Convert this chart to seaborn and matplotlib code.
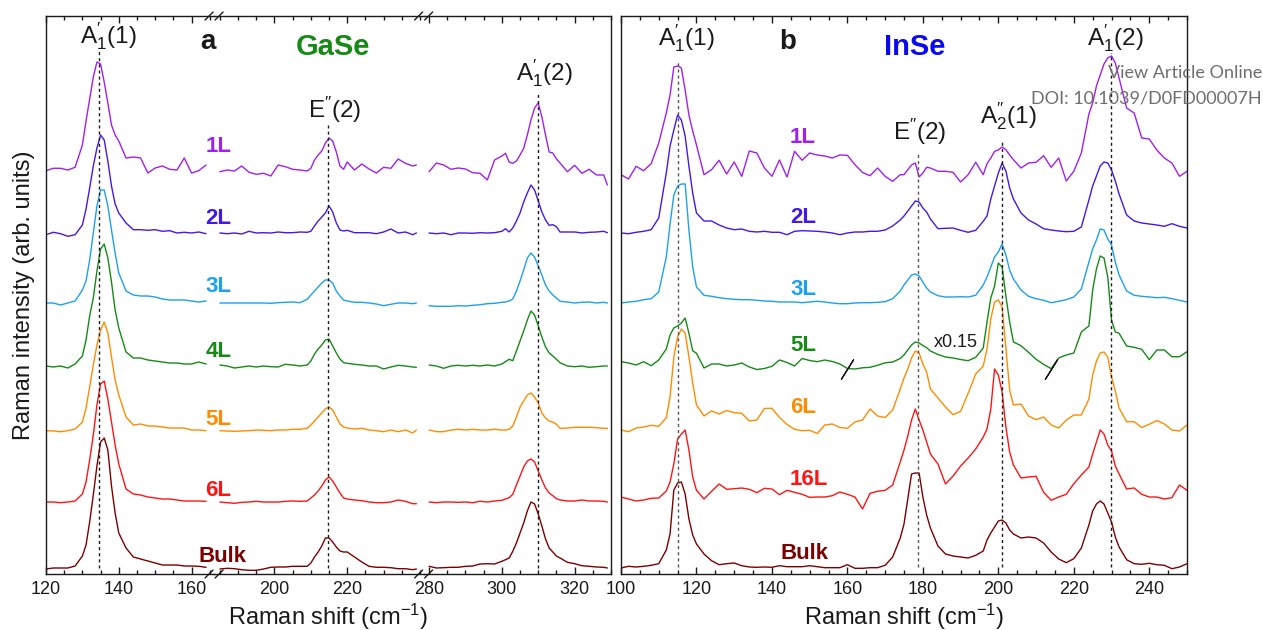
import numpy as np
import pandas as pd
import seaborn as sns
import matplotlib.pyplot as plt
from matplotlib.lines import Line2D
from matplotlib.ticker import FixedLocator, MultipleLocator

# ---------------- GaSe (panel a): broken Raman-shift axis, three windows ----------------
gase_shift_low = [120, 122, 124, 126, 128, 130, 131, 132, 133, 134, 135, 136, 137, 138, 139, 140,
                  142, 144, 146, 148, 150, 152, 154, 156, 158, 160, 162, 164]
gase_shift_mid = [185, 187, 189, 191, 193, 195, 197, 199, 201, 203, 205, 207, 209,
                  210, 211, 212, 213, 214, 215, 216, 217, 218, 219, 220,
                  222, 224, 226, 228, 230, 232, 234, 236, 238, 239]
gase_shift_high = [280, 282, 284, 286, 288, 290, 292, 294, 296, 298, 300,
                   301, 302, 303, 304, 305, 306, 307, 308, 309, 310, 311, 312, 313, 314, 315, 316,
                   318, 320, 322, 324, 326, 328, 329]

# intensities (arb. units) above each trace's own baseline: low | mid | high windows
gase_1l = ([-0.7, 1.7, 1.7, 0, 2.7, 25, 49, 71, 93, 108, 106, 88, 67, 45, 35, 29,
            12, 13, 12, -3, 2, 4, 0.7, 0, 12, -3, -0.7, 5]
           + [-1.7, 0, -1, 4, -2.3, -4.3, -3.3, -6, 5, 3.3, 0.7, 0, -1,
              1.7, 10, 15, 19, 27, 32, 29, 18, 4, 0.7, 8,
              0, 6, 1, -3, 2.7, 1.7, 11, 6.7, 4, 5]
           + [-1.7, 7, 5, 0.7, 2, 1, -2.7, -3.3, -10, 10, 14,
              16.7, 8, 6.7, 9, 15, 21.7, 35, 50, 62, 67, 53, 35, 18, 17, 11, 7,
              -1.7, 4.7, -3.3, 0.7, -5, -5, -15])
gase_2l = ([-1.7, 0.7, -0.7, -3.3, -1.7, 8, 24, 45, 67, 85, 98, 93, 72, 47, 29, 20,
            10, 3.3, 3.3, 2.7, 3.3, 1.7, 2.3, 0, 0.7, 0, 1, -0.7]
           + [0, -0.7, 0, -1, 1.7, 0, 0.3, 0, 1, 0.3, 0.3, 1, 0.7,
              1.7, 7, 12, 16, 20, 27, 21, 10, 3, 2, 2.7,
              0.3, 0.3, 0.3, -0.7, 1, 4, 0, 1, -1.7, 0]
           + [0, -0.7, 0, -1.7, 0, 0, -0.3, 0.3, 0, 0.3, 1.7,
              4.3, 1, 5, 12, 20, 31, 40, 48, 43, 32, 21, 13, 7.7, 8.3, 6.3, 1,
              1, 1, 0, 0.7, 1, 1.7, 0.3])
gase_3l = ([0, 0, -2, 0, 2, 13, 22, 43, 70, 97, 113, 113, 97, 73, 50, 30,
            12, 8, 7, 7, 6, 4, 3, 3, 3, 2, 1, 2]
           + [0, 0, 0, 0, 0, 0, 0, -0.3, 0.3, 0.7, 1, 0.3, 3.7,
              8, 12, 16, 20, 23, 23, 20, 12, 7, 3, 2,
              0.7, 0.7, 0, -1, -2.7, -1.3, 0, 0, -0.7, 0]
           + [-2.7, -3.3, -3.3, -3.3, -2.7, -3, -2.3, -1.7, -0.7, -0.3, 0.7,
              1, 2, 4, 12, 22, 33, 45, 50, 46, 37, 28, 18, 12, 8, 5, 1.7,
              1, 0, 0.7, 1, 0, 0.7, 0])
gase_4l = ([0, -1, 0, -2, 2, 10, 26, 50, 68, 95, 117, 122, 108, 84, 56, 38,
            14, 8, 8, 6, 5, 4, 3, 3, 2, 2, 4, 2]
           + [1, 0, -2, -1, 0, -1, 0, -0.7, -1, 1.7, 1, 0, 1,
              5, 12, 17, 21, 26, 27, 20, 13, 7, 3.3, 2.7,
              1.7, 1, 0, 0, -3, -1, 0.7, 0, -1, -1.3]
           + [1, 0, -2.3, 0, 0.7, 0, 0.7, 0, 1, 0, 2,
              4.3, 6.7, 5.3, 15, 25, 35, 46, 55, 51, 40, 29, 19, 13, 10, 6.7, 3.3,
              0, -0.7, 0, -1.3, -0.7, 0, 0])
gase_5l = ([-0.7, -1, -1.7, -0.7, 1, 8, 22, 43, 65, 85, 100, 108, 97, 73, 50, 35,
            13, 5, 6, 4, 4, 3, 2, 2, 2, 0, 0, -0.7]
           + [-0.7, -1, -1.3, -1, -0.7, 0, -0.3, -0.7, 0, 0, 0.7, 0.7, 1.7,
              5, 9, 13, 17, 21, 23, 20, 13, 6, 3, 2,
              1, 1.7, 0, -0.7, -1.7, 0, -1.7, 0, -3, 0]
           + [0, -1.7, -1.7, 0, 0.7, 0, 0.7, 0, 0, 0.7, 0,
              0, 0.7, 4, 13, 23, 29, 35, 37, 33, 27, 17, 12, 9, 8, 5.7, 1.7,
              2, 2.7, 2.7, 2.7, 2.3, 1.7, 1.7])
gase_6l = ([0, 0, -0.7, 0, 1, 8, 20, 42, 67, 97, 118, 121, 103, 80, 57, 38,
            13, 8, 7, 5, 4, 3, 3, 2, 1, 1, 1, 0.7]
           + [0, -0.7, -1.3, -0.3, 0, 0.7, 0, 0, 0, 0.7, 1, 0.7, 1,
              4, 7, 11, 16, 22, 25, 21, 15, 9, 4, 3,
              2, 1.3, 0, -0.7, -0.7, 0, 2, 0.7, -1.7, -1.7]
           + [0, -0.7, 0, 0, -0.3, 0, -0.7, 0.7, 0, 1, 1.7,
              3, 4.3, 7.7, 17, 26, 35, 41, 43, 40, 31, 22, 14, 9, 6.3, 3.3, 2,
              1, 1, 2, 1, 1, 0.7, 0])
gase_bulk = ([-1, 0, 0, 0, 2, 12, 23, 46, 73, 102, 126, 130, 118, 82, 55, 35,
              20, 11, 9, 7, 5, 3, 3, 3, 2, 2, 1.7, 0.7]
             + [-1, -0.3, -0.7, -1.7, -2.3, -2.3, -1, 0.7, 1, 1, 1.7, 1.7, 1.7,
                5, 11, 16, 22, 30, 30, 26, 21, 17, 16, 16,
                11, 6, 1.7, 0.7, 0.7, 0.3, -0.7, -0.7, -1.7, -1]
             + [1.7, 0, 0.3, 0.7, 0.7, 1.7, 2, 4, 4.3, 4, 6.7,
                8.3, 10, 16.7, 25, 35, 45, 57, 66, 64, 54, 42, 29, 20, 16, 12, 10,
                5.7, 4.3, 2.3, 1.7, 1, 0.7, 0])

gase_layers = ["1L", "2L", "3L", "4L", "5L", "6L", "Bulk"]
gase_offsets = [404, 341, 271, 208, 144, 72, 6]
gase_modes = [134.5, 214.7, 309.8]

# ---------------- InSe (panel b) ----------------
inse_shift = [100, 102, 104, 106, 108, 110,
              112, 113, 114, 115, 116, 117, 118, 119, 120,
              122, 124, 126, 128, 130, 132, 134, 136, 138, 140, 142, 144, 146, 148, 150,
              152, 154, 156, 158, 160, 162, 164, 166, 168, 170, 172,
              174, 175, 176, 177, 178, 179, 180, 181, 182,
              184, 186, 188, 190, 192, 194, 196,
              197, 198, 199, 200, 201, 202, 203, 204,
              206, 208, 210, 212, 214, 216, 218, 220, 222,
              224, 225, 226, 227, 228, 229, 230, 231, 232,
              234, 236, 238, 240, 242, 244, 246, 248, 250]

inse_1l = [-1.7, -6, 6.7, 2.3, 9.3, 30,
           60, 78, 106, 107, 105, 83, 58, 42, 28,
           -1.7, 3.3, 12.7, -1, 11, -3.3, 22, 20, 5, -3.3, 13, -4, 21.7, 12.7, 20,
           18, 17, 15, 18, 17.7, 8.3, 0.5, -2.7, 5, -3.3, -8.3,
           -1.7, -1.7, 3.3, 8, 10, -4, 0, 5.7, 5,
           1.7, 1.7, 0.7, -9, -1.7, 10.7, -1.7,
           9.3, 15, 21.7, 23, 26, 23.3, 18, 13.3,
           5, 10, 10.7, 17.3, 5.7, 15, -8, 1.7, 20,
           59, 70, 87, 98, 109, 115, 117, 110, 95,
           65, 60, 35, 34, 23, 15, 10, -3.3, 1.7]
inse_2l = [0, -0.7, 0.7, 1.7, 3.3, 15,
           60, 87, 103, 118, 113, 97, 67, 40, 20,
           12, 12, 8, 5, 3.3, 4, 1.7, 1, 1.7, 0.7, 0.7, -1.7, 1.7, 2.3, 2,
           1.7, 1, 0, -1.7, 0, 1, 1, 1.7, 1.7, 3, 7,
           13, 17, 22, 27, 32, 31, 25, 21, 14,
           4.3, 4.7, 5, 2.7, 0.7, 2.7, 11.7,
           17, 34, 47, 60, 70, 62, 45, 34,
           20, 13, 9, 4.3, 3, 2, 1.3, 1.7, 6,
           33, 47, 57, 67, 71, 70, 63, 52, 39,
           18, 12, 10, 9, 8, 6.7, 9.3, 6.7, 5]
inse_3l = [-1, 0, 0.7, 2.3, 3.3, 10,
           45, 78, 107, 116, 118, 118, 72, 35, 15,
           6.7, 5.7, 4.3, 3.3, 2.7, 2.3, 2.3, 1.7, 1, 0.7, 0, 0, 0, -0.7, 0,
           0.7, 0, -1, -1.7, -1.7, -1, -0.7, -0.7, -0.3, 0.3, 3.3,
           11, 17, 22, 27, 28, 26, 20, 14, 10,
           6.3, 5, 5, 5.3, 5, 6.7, 17,
           25, 35, 45, 50, 58, 47, 32, 23,
           12, 5.7, 3.3, 1.7, -0.7, 0.7, 2.3, 5, 13,
           40, 53, 62, 73, 72, 63, 57, 40, 27,
           11, 6.7, 5.7, 5, 4.3, 4.7, 3.3, 1.7, 0]
inse_5l = [0.3, -1, -3, 0.3, -3.7, 2,
           13, 27, 34, 36, 39, 44, 28.7, 11.3, 8.7,
           -6, -2, -2, -4, -3, -1, -5, -7.5, -6.5, -4.3, 2, -0.5, -4, 3.5, 1.5,
           0.3, 2, 0.5, -2, -6.5, -7, -5.8, -5.3, -3.3, -0.8, 0,
           3.5, 7, 12, 17, 20, 19, 16.5, 14.3, 11,
           7.5, 5, 4, 2.5, 1.3, 4.7, 14,
           40, 64, 76, 99, 95, 66, 40, 20,
           16.3, 9.7, 2.7, -2.3, -6.7, 4, 7, 9, 30,
           36, 72, 93, 106, 104, 85, 42, 30, 28.7,
           16, 14.7, 12.7, 2.3, 12, 12, 5.3, 5.3, 10.3]
inse_6l = [0, -1.7, 2, 3, 4.7, 3.7,
           12.3, 33, 73, 93, 101, 97, 73, 47, 25,
           14, 19, 16, 19.5, 17.3, 16.7, 9, 10, 21.5, 21.7, 12.5, 5.5, 0.7, -0.7, -0.3,
           -3.5, 5, 6, 2.5, 1.7, 8, 10, 21, 14, 12.5, 20,
           41, 52, 61, 72, 79, 77, 66, 58, 41,
           32, 23, 15.3, 18.7, 36.7, 56, 64,
           81, 111, 128, 130, 123, 82, 40, 25,
           26, 14, 10.3, 13, 5, 2, 10, 15, 15,
           31, 55, 69, 77, 78, 73, 53, 39, 22,
           8.3, 8.3, 2.5, 5.7, 9.5, 6, 0, -1, 5]
inse_16l = [0, -2, -4, -3, -1.3, -1,
            6, 15, 33, 58, 63, 67, 47, 20, 6.7,
            -2, 5.7, 13, 7.7, 8.3, 9, 7.7, 4.3, 8.7, 8, 2.3, 6.7, 4.7, 2.7, -0.3,
            0, 0, 1.3, 5, 2.7, 0, -12, 3.7, 5.7, 6.7, 12,
            35, 47, 61, 77, 88, 77, 67, 55, 43,
            33, 13, 21, 31, 39, 48, 60,
            68, 88, 128, 122, 105, 70, 45, 32,
            19, 20, 20.7, 4.7, -3.3, 0, 2.7, 13.3, 22,
            30, 43, 55, 67, 63, 52, 46, 31, 23,
            8, 9, 2.7, 0, 0, -2, -0.7, 12, 6.7]
inse_bulk = [-1, 0.7, 0, 0.7, 1.7, 3.3,
             17, 33, 77, 84, 85, 73, 48, 32, 23,
             13, 6.3, 2.3, 3.3, 4, 1.3, 0, -0.3, 0, -0.3, 1.3, 0.3, 0.3, 0.3, 1.3,
             0.3, -0.7, -0.7, -0.7, 2.3, -1.3, -1.3, -0.7, -0.7, 1.7, 10,
             29, 43, 68, 93, 94, 94, 70, 52, 39,
             21, 13, 11, 10, 9, 11.7, 16,
             27, 34, 40, 46, 47, 44, 37, 33,
             29, 30, 29, 24, 15, 8, 4.3, 8.3, 19,
             42, 56, 63, 66, 63, 54, 45, 30, 20,
             7.3, 3.3, 2.7, 3.7, 2.3, 1.7, -1.7, 0, 3.3]

inse_layers = ["1L", "2L", "3L", "5L", "6L", "16L", "Bulk"]
inse_offsets = [401, 341, 272, 212, 144, 77, 7]
inse_modes = [115.2, 178.6, 201.0, 229.8]
inse_scaled_window = [160, 214]   # 5L trace between these shifts is shown x0.15

stack_colors = ["#a020f0", "#4319e8", "#1ca0f0", "#168a16", "#ff8c00", "#ff1414", "#7d0000"]


def stacked(shift, spectra, layers, offsets, window=None):
    frames = []
    for layer, counts, offset in zip(layers, spectra, offsets):
        part = pd.DataFrame({"shift": shift,
                             "signal": np.asarray(counts, dtype=float) + offset,
                             "layer": layer})
        if window is not None:
            part["window"] = window
        frames.append(part)
    return pd.concat(frames, ignore_index=True)


gase_window = (["low"] * len(gase_shift_low) + ["mid"] * len(gase_shift_mid)
               + ["high"] * len(gase_shift_high))
gase_df = stacked(gase_shift_low + gase_shift_mid + gase_shift_high,
                  [gase_1l, gase_2l, gase_3l, gase_4l, gase_5l, gase_6l, gase_bulk],
                  gase_layers, gase_offsets, gase_window)
inse_df = stacked(inse_shift,
                  [inse_1l, inse_2l, inse_3l, inse_5l, inse_6l, inse_16l, inse_bulk],
                  inse_layers, inse_offsets)

sns.set_theme(style="ticks")
plt.rcParams["font.family"] = ["Liberation Sans", "DejaVu Sans"]
plt.rcParams["mathtext.fontset"] = "custom"
plt.rcParams["mathtext.rm"] = "Liberation Sans"
plt.rcParams["mathtext.it"] = "Liberation Sans:italic"
plt.rcParams["mathtext.bf"] = "Liberation Sans:bold"
plt.rcParams["text.color"] = "k"
plt.rcParams["xtick.labelcolor"] = "k"

W, H = 1263, 630
fig = plt.figure(figsize=(W / 100, H / 100), dpi=100)
YMAX = 558
bottom, height = 56 / H, YMAX / H


def px_rect(x0, x1):
    return [x0 / W, bottom, (x1 - x0) / W, height]


def style_axis(ax, xlim, majors):
    ax.set_xlim(*xlim)
    ax.set_ylim(0, YMAX)
    ax.set_facecolor("none")
    ax.xaxis.set_major_locator(FixedLocator(majors))
    ax.xaxis.set_minor_locator(MultipleLocator(5))
    ax.tick_params(axis="x", which="both", direction="in", top=True, bottom=True,
                   labelsize=13, pad=5, color="k", width=1)
    ax.tick_params(axis="x", which="major", length=5)
    ax.tick_params(axis="x", which="minor", length=3)
    ax.tick_params(axis="y", left=False, right=False, labelleft=False)
    ax.set_xlabel("")
    ax.set_ylabel("")
    for sp in ax.spines.values():
        sp.set_linewidth(1)
        sp.set_color("k")


# ---- panel a: three windows laid side by side at the same cm-1 scale ----
windows = [("low", (120, 166.2), [120, 140, 160]),
           ("mid", (183.4, 241.0), [200, 220]),
           ("high", (278.5, 330), [280, 300, 320])]
scale = (611 - 46) / sum(hi - lo for _, (lo, hi), _ in windows)
x0 = 46
gase_axes = []
for name, (lo, hi), majors in windows:
    x1 = x0 + (hi - lo) * scale
    ax = fig.add_axes(px_rect(x0, x1))
    sns.lineplot(data=gase_df[gase_df["window"] == name], x="shift", y="signal",
                 hue="layer", hue_order=gase_layers,
                 palette=dict(zip(gase_layers, stack_colors)),
                 estimator=None, sort=True, linewidth=1, legend=False, ax=ax)
    style_axis(ax, (lo, hi), majors)
    gase_axes.append(ax)
    x0 = x1
ax_lo, ax_mid, ax_hi = gase_axes
ax_lo.spines["right"].set_visible(False)
ax_mid.spines["left"].set_visible(False)
ax_mid.spines["right"].set_visible(False)
ax_hi.spines["left"].set_visible(False)
ax_lo.set_zorder(3)   # its text labels reach across the first break

# break marks "//" on top and bottom spines at the joins
for ax in gase_axes[:-1]:
    pos = ax.get_position()
    for yf in (pos.y0, pos.y1):
        for dx in (-5, 5):
            xc = pos.x1 + dx / W
            fig.add_artist(Line2D([xc - 4 / W, xc + 4 / W], [yf - 4 / H, yf + 4 / H],
                                  transform=fig.transFigure, color="k", lw=1))

dash = (0, (2.2, 2.2))
for ax, mode, top in zip(gase_axes, gase_modes, [524, 449, 480]):
    ax.vlines(mode, 6, top, colors="k", linestyles=dash, linewidth=1)

peak_fs = 17.5
ax_lo.text(137.2, 531, r"A$_{1}^{\prime}$(1)", fontsize=peak_fs, ha="center", va="baseline")
ax_mid.text(216.6, 456, r"E$^{\prime\prime}$(2)", fontsize=peak_fs, ha="center", va="baseline")
ax_hi.text(311.6, 494, r"A$_{1}^{\prime}$(2)", fontsize=peak_fs, ha="center", va="baseline")
ax_lo.text(164.5, 525, "a", fontsize=20, fontweight="bold", ha="center", va="baseline")
ax_mid.text(216.1, 519, "GaSe", fontsize=21, fontweight="bold", color="#168a16",
            ha="center", va="baseline")
for layer, color, y in zip(gase_layers, stack_colors, [422, 350, 282, 217, 149, 78, 12]):
    ax_lo.text(161.8 if layer == "Bulk" else 163.8, y, layer, fontsize=16,
               fontweight="bold", color=color, ha="left", va="baseline")

# ---- panel b ----
ax_b = fig.add_axes(px_rect(621, 1187))
sns.lineplot(data=inse_df, x="shift", y="signal", hue="layer", hue_order=inse_layers,
             palette=dict(zip(inse_layers, stack_colors)),
             estimator=None, sort=True, linewidth=1, legend=False, ax=ax_b)
style_axis(ax_b, (100, 250), [100, 120, 140, 160, 180, 200, 220, 240])

for mode, top, col in zip(inse_modes, [512, 421, 434, 521], ["#555555", "#555555", "k", "k"]):
    ax_b.vlines(mode, 7, top, colors=col, linestyles=dash, linewidth=1)

five = inse_df[inse_df["layer"] == "5L"].set_index("shift")["signal"]
for xb in inse_scaled_window:
    ax_b.plot([xb], [five.loc[xb]], marker=(2, 2, -32), markersize=17,
              markeredgewidth=0.9, color="k", linestyle="none")
ax_b.text(188.8, 227, "x0.15", fontsize=13, ha="center", va="baseline")

ax_b.text(117.2, 529, r"A$_{1}^{\prime}$(1)", fontsize=peak_fs, ha="center", va="baseline")
ax_b.text(179.2, 434, r"E$^{\prime\prime}$(2)", fontsize=peak_fs, ha="center", va="baseline")
ax_b.text(202.6, 451, r"A$_{2}^{\prime\prime}$(1)", fontsize=peak_fs, ha="center", va="baseline")
ax_b.text(230.9, 529, r"A$_{1}^{\prime}$(2)", fontsize=peak_fs, ha="center", va="baseline")
ax_b.text(144.3, 525, "b", fontsize=20, fontweight="bold", ha="center", va="baseline")
ax_b.text(177.7, 519, "InSe", fontsize=21, fontweight="bold", color="#0a0af0",
          ha="center", va="baseline")
for layer, color, y in zip(inse_layers, stack_colors, [431, 351, 279, 223, 161, 89, 15]):
    ax_b.text(142.4 if layer == "Bulk" else 144.8, y, layer, fontsize=16,
              fontweight="bold", color=color, ha="left", va="baseline")

# axis titles
fig.text(24 / W, 1 - 295 / H, "Raman intensity (arb. units)", rotation=90,
         fontsize=17, ha="center", va="center")
for xc in (328.5, 904):
    fig.text(xc / W, 1 - 617 / H, r"Raman shift (cm$^{-1}$)", fontsize=17,
             ha="center", va="center")

# publisher watermark
fig.text(1262 / W, 1 - 78 / H, "View Article Online", fontsize=13, color="#6e6e6e",
         family=["Lato", "DejaVu Sans"], ha="right", va="baseline")
fig.text(1262 / W, 1 - 104 / H, "DOI: 10.1039/D0FD00007H", fontsize=13, color="#6e6e6e",
         family=["Lato", "DejaVu Sans"], ha="right", va="baseline")

fig.savefig("out.png", dpi=100)
